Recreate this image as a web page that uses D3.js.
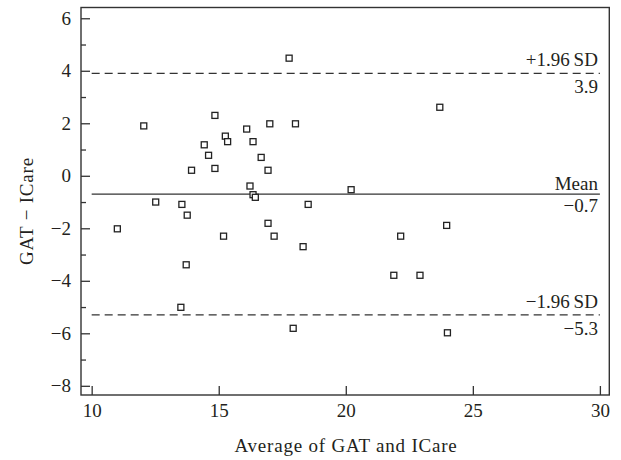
<!DOCTYPE html>
<html>
<head>
<meta charset="utf-8">
<script src="https://cdn.jsdelivr.net/npm/d3@7"></script>
<style>
  body { margin: 0; background: #fff; }
  #chart { width: 621px; height: 460px; }
  text { font-family: "Liberation Serif", "DejaVu Serif", serif; fill: #231f20; }
</style>
</head>
<body>
<div id="chart"></div>
<script>
// Bland-Altman points: average of GAT and ICare vs difference
const avgValues = [14.85, 12.05, 16.10, 17.01, 18.02, 15.26, 15.35, 16.35, 14.43, 14.60,
                   16.67, 13.93, 14.85, 16.94, 16.23, 16.35, 16.44, 12.52, 13.55, 18.52,
                   13.76, 11.01, 16.94, 15.19, 17.18, 18.32, 13.72, 13.51, 17.93, 23.70,
                   17.77, 23.97, 22.16, 21.89, 22.92, 24.00, 20.21]
const diffValues = [2.30, 1.90, 1.78, 1.98, 1.98, 1.51, 1.30, 1.30, 1.18, 0.78,
                    0.70, 0.21, 0.28, 0.21, -0.39, -0.72, -0.82, -1.00, -1.09, -1.09,
                    -1.50, -2.02, -1.81, -2.30, -2.30, -2.70, -3.39, -5.01, -5.81, 2.61,
                    4.48, -1.89, -2.30, -3.79, -3.79, -5.98, -0.53]

const refValues = [3.9, -0.7, -5.3]
const refNames = ["+1.96\u2009SD", "Mean", "\u22121.96\u2009SD"]
const refLabels = ["3.9", "\u22120.7", "\u22125.3"]
const refDashed = [true, false, true]

const xTicks = [10, 15, 20, 25, 30]
const yTicks = [-8, -6, -4, -2, 0, 2, 4, 6]
const yMinorTicks = [-7, -5, -3, -1, 1, 3, 5]

const width = 621, height = 460
const fontSize = "19px"
const svg = d3.select("#chart").append("svg")
    .attr("width", width)
    .attr("height", height)

const xScale = d3.scaleLinear().domain([9.58, 30.37]).range([81, 609.3])
const yScale = d3.scaleLinear().domain([-8.35, 6.41]).range([395, 7.5])

const ink = "#333"

// axes (ticks point inward)
const yAxis = d3.axisLeft(yScale).tickValues(yTicks).tickSize(-9).tickPadding(10)
const gy = svg.append("g")
    .attr("transform", "translate(" + xScale.range()[0] + ",0)")
    .call(yAxis)
gy.select(".domain").remove()
gy.selectAll("line").attr("stroke", ink).attr("stroke-width", 1.3)
gy.selectAll("text").style("font-size", fontSize).attr("fill", "#231f20")

const yMinor = d3.axisLeft(yScale).tickValues(yMinorTicks).tickSize(-5).tickFormat("")
const gym = svg.append("g")
    .attr("transform", "translate(" + xScale.range()[0] + ",0)")
    .call(yMinor)
gym.select(".domain").remove()
gym.selectAll("line").attr("stroke", ink).attr("stroke-width", 1.3)

const xAxis = d3.axisBottom(xScale).tickValues(xTicks).tickSize(-9).tickPadding(9)
const gx = svg.append("g")
    .attr("transform", "translate(0," + yScale.range()[0] + ")")
    .call(xAxis)
gx.select(".domain").remove()
gx.selectAll("line").attr("stroke", ink).attr("stroke-width", 1.3)
gx.selectAll("text").style("font-size", fontSize).attr("fill", "#231f20")

// frame
svg.append("rect")
    .attr("x", xScale.range()[0])
    .attr("y", yScale.range()[1])
    .attr("width", xScale.range()[1] - xScale.range()[0])
    .attr("height", yScale.range()[0] - yScale.range()[1])
    .attr("fill", "none")
    .attr("stroke", ink)
    .attr("stroke-width", 1.4)

// reference lines
refValues.forEach((v, i) => {
    svg.append("line")
        .attr("x1", xScale(10))
        .attr("x2", xScale(30))
        .attr("y1", yScale(v))
        .attr("y2", yScale(v))
        .attr("stroke", ink)
        .attr("stroke-width", 1.3)
        .attr("stroke-dasharray", refDashed[i] ? "8,5" : null)
    svg.append("text")
        .attr("x", xScale(30) - 2)
        .attr("y", yScale(v) - (refDashed[i] ? 7 : 4))
        .attr("text-anchor", "end")
        .style("font-size", fontSize)
        .text(refNames[i])
    svg.append("text")
        .attr("x", xScale(30) - 2)
        .attr("y", yScale(v) + (refDashed[i] ? 20 : 18))
        .attr("text-anchor", "end")
        .style("font-size", fontSize)
        .text(refLabels[i])
})

// points
svg.append("g")
    .selectAll("rect.pt")
    .data(avgValues.map((a, i) => ({ a: a, d: diffValues[i] })))
    .join("rect")
    .attr("class", "pt")
    .attr("x", d => xScale(d.a) - 3)
    .attr("y", d => yScale(d.d) - 3)
    .attr("width", 6)
    .attr("height", 6)
    .attr("fill", "#fff")
    .attr("stroke", "#222")
    .attr("stroke-width", 1.3)

// axis titles
svg.append("text")
    .attr("x", 346)
    .attr("y", 452)
    .attr("text-anchor", "middle")
    .style("font-size", fontSize)
    .style("letter-spacing", "0.8px")
    .text("Average of GAT and ICare")

svg.append("text")
    .attr("transform", "translate(33," + 211 + ") rotate(-90)")
    .attr("text-anchor", "middle")
    .style("font-size", fontSize)
    .style("letter-spacing", "0.8px")
    .text("GAT \u2212 ICare")
</script>
</body>
</html>
